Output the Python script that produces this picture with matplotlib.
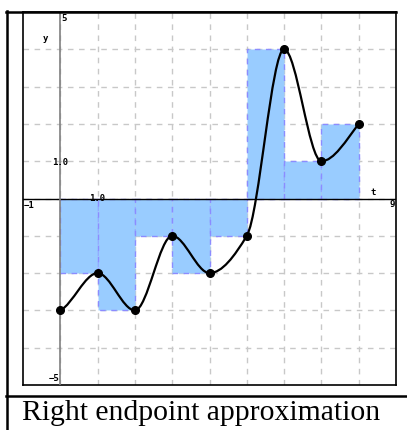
import numpy as np
import matplotlib
matplotlib.use("Agg")
import matplotlib.pyplot as plt
from matplotlib.path import Path
from matplotlib.patches import PathPatch
from matplotlib.lines import Line2D

# sample points of f(t)
t_pts = [0, 1, 2, 3, 4, 5, 6, 7, 8]
f_pts = [-3, -2, -3, -1, -2, -1, 4, 1, 2]
# right endpoint rectangles
bar_left = [0, 1, 2, 3, 4, 5, 6, 7]
bar_height = [-2, -3, -1, -2, -1, 4, 1, 2]
caption = "Right endpoint approximation"


def hermite_slopes(x, y):
    # Fritsch-Carlson monotone slopes
    x = np.asarray(x, float); y = np.asarray(y, float)
    h = np.diff(x); d = np.diff(y) / h
    m = np.zeros_like(y)
    for k in range(1, len(x) - 1):
        if d[k-1] * d[k] > 0:
            w1 = 2*h[k] + h[k-1]; w2 = h[k] + 2*h[k-1]
            m[k] = (w1 + w2) / (w1/d[k-1] + w2/d[k])
    m[0] = d[0] * 0.5
    m[-1] = d[-1] * 1.3
    return m


fig = plt.figure(figsize=(4.07, 4.30), dpi=100)
ax = fig.add_axes([23/407, 45/430, 373/407, 373/430])
ax.set_xlim(-1, 9)
ax.set_ylim(-5, 5)

for v in range(0, 9):
    ax.axvline(v, color="#c8c8c8", lw=1, ls=(0, (4, 4)), zorder=1)
for v in range(-4, 5):
    ax.axhline(v, color="#c8c8c8", lw=1, ls=(0, (4, 4)), zorder=1)

ax.bar(bar_left, bar_height, width=1, align="edge", color="#99ccff",
       edgecolor="#8c8cff", linestyle=(0, (4, 4)), linewidth=1, zorder=2)

ax.axhline(0, color="black", lw=1, zorder=3)
ax.axvline(0, color="#808080", lw=1.2, zorder=3)

# smooth curve as cubic bezier path
m = hermite_slopes(t_pts, f_pts)
verts = [(t_pts[0], f_pts[0])]
codes = [Path.MOVETO]
for k in range(len(t_pts) - 1):
    h = t_pts[k+1] - t_pts[k]
    verts += [(t_pts[k] + h/3, f_pts[k] + m[k]*h/3),
              (t_pts[k+1] - h/3, f_pts[k+1] - m[k+1]*h/3),
              (t_pts[k+1], f_pts[k+1])]
    codes += [Path.CURVE4] * 3
ax.add_patch(PathPatch(Path(verts, codes), fill=False, edgecolor="black", lw=1.6, zorder=4))
ax.plot(t_pts, f_pts, "o", color="black", ms=5.5, zorder=5)

fnt = dict(family="DejaVu Sans Mono", weight="bold", fontsize=6.5, zorder=6)
ax.text(0.03, 4.95, "5", ha="left", va="top", **fnt)
ax.text(-0.02, -4.95, "\u22125", ha="right", va="bottom", **fnt)
ax.text(-0.97, -0.08, "\u22121", ha="left", va="top", **fnt)
ax.text(8.98, -0.05, "9", ha="right", va="top", **fnt)
ax.text(0, 0.97, "1.0", ha="center", va="center", **fnt)
ax.text(1, -0.01, "1.0", ha="center", va="center", **fnt)
ax.text(-0.4, 4.3, "y", ha="center", va="center", **fnt)
ax.text(8.4, 0.16, "t", ha="center", va="center", **fnt)

ax.set_xticks([]); ax.set_yticks([])
for s in ax.spines.values():
    s.set_linewidth(1.2)

# outer frame
def fx(px): return px / 407
def fy(py): return 1 - py / 430
fig.add_artist(Line2D([fx(7), fx(7)], [fy(11), fy(431)], color="black", lw=1.8))
fig.add_artist(Line2D([fx(6), fx(396)], [fy(12), fy(12)], color="black", lw=1.8))
fig.add_artist(Line2D([fx(6), fx(408)], [fy(396), fy(396)], color="black", lw=1.8))
fig.text(fx(22), fy(420), caption, family="Liberation Serif", fontsize=21.3,
         ha="left", va="baseline")

fig.savefig("out.png", dpi=100)
